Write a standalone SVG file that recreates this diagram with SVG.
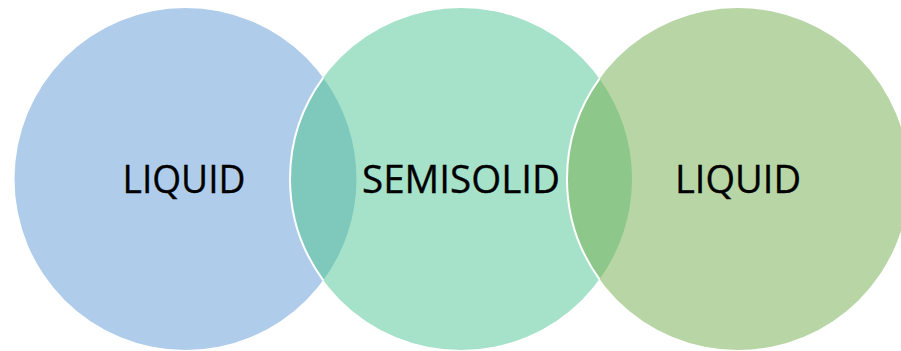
<svg xmlns="http://www.w3.org/2000/svg" width="901" height="351" viewBox="0 0 901 351">
  <style>
    .lbl { font-family: "Open Sans", "Noto Sans", "Liberation Sans", sans-serif; font-size: 39px; fill: #000000; stroke: #000000; stroke-width: 0.35; text-anchor: middle; }
    .edge { fill: none; stroke: #ffffff; stroke-width: 2; }
  </style>
  <rect x="0" y="0" width="901" height="351" fill="#ffffff"/>
  <g id="node-liquid-left">
    <circle cx="185.5" cy="179" r="171" fill="#AFCDEA"/>
  </g>
  <g id="node-semisolid">
    <circle cx="461" cy="179" r="171" fill="#A6E2C9"/>
    <path d="M 323.25 77.7 A 171 171 0 0 1 323.25 280.3 A 171 171 0 0 1 323.25 77.7 Z" fill="#7FC9BC"/>
    <path class="edge" d="M 323.25 77.7 A 171 171 0 0 0 323.25 280.3"/>
  </g>
  <g id="node-liquid-right">
    <circle cx="738" cy="179" r="171" fill="#B8D6A5"/>
    <path d="M 599.5 78.7 A 171 171 0 0 1 599.5 279.3 A 171 171 0 0 1 599.5 78.7 Z" fill="#8DC88A"/>
    <path class="edge" d="M 599.5 78.7 A 171 171 0 0 0 599.5 279.3"/>
  </g>
  <g id="labels">
    <text class="lbl" x="184" y="192.5" textLength="123" lengthAdjust="spacingAndGlyphs">LIQUID</text>
    <text class="lbl" x="461" y="192.5" textLength="198" lengthAdjust="spacingAndGlyphs">SEMISOLID</text>
    <text class="lbl" x="738" y="192.5" textLength="126" lengthAdjust="spacingAndGlyphs">LIQUID</text>
  </g>
  <g id="connectors"></g>
</svg>
